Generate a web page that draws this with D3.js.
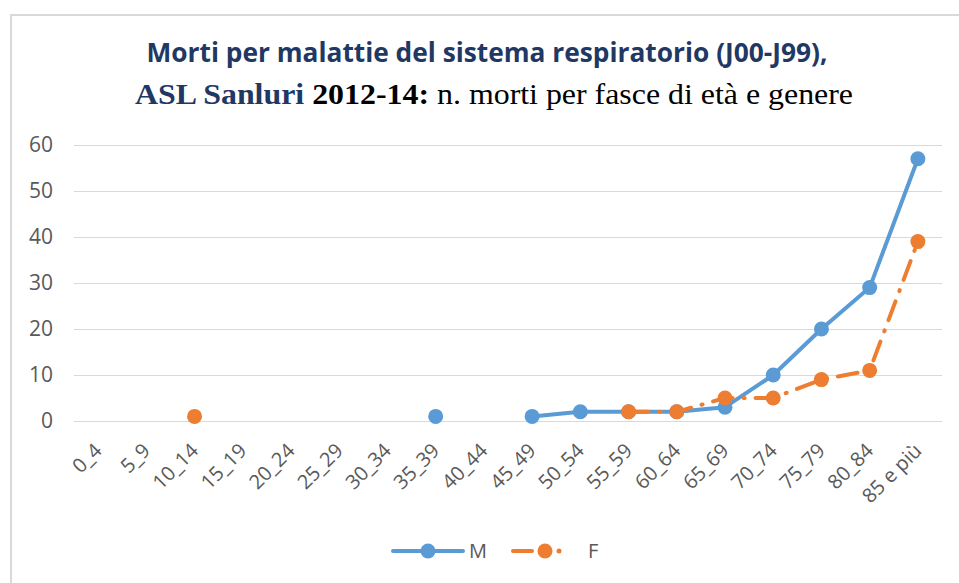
<!DOCTYPE html>
<html>
<head>
<meta charset="utf-8">
<script src="https://cdn.jsdelivr.net/npm/d3@7"></script>
<style>
  body { margin: 0; background: #fff; }
  svg { display: block; }
</style>
</head>
<body>
<div id="chart"></div>
<script>
const categories = ['0_4', '5_9', '10_14', '15_19', '20_24', '25_29', '30_34', '35_39', '40_44',
  '45_49', '50_54', '55_59', '60_64', '65_69', '70_74', '75_79', '80_84', '85 e più'];
const maschi = [null, null, null, null, null, null, null, 1, null, 1, 2, 2, 2, 3, 10, 20, 29, 57];
const femmine = [null, null, 1, null, null, null, null, null, null, null, null, 2, 2, 5, 5, 9, 11, 39];
const yTicks = [0, 10, 20, 30, 40, 50, 60];

const width = 959;
const height = 583;
const blue = '#5B9BD5';
const orange = '#ED7D31';
const textGray = '#595959';

const svg = d3.select('#chart').append('svg')
  .attr('width', width)
  .attr('height', height);

// chart frame
svg.append('path')
  .attr('d', `M11,${height} V15 H${width}`)
  .attr('fill', 'none')
  .attr('stroke', '#d9d9d9')
  .attr('stroke-width', 2);

// title
svg.append('text')
  .attr('x', 487).attr('y', 62)
  .attr('text-anchor', 'middle')
  .attr('font-family', 'Open Sans, sans-serif')
  .attr('font-weight', 'bold')
  .attr('font-size', 26)
  .attr('fill', '#1F3864')
  .attr('textLength', 681)
  .attr('lengthAdjust', 'spacingAndGlyphs')
  .text('Morti per malattie del sistema respiratorio (J00-J99),');

const t2 = svg.append('text')
  .attr('x', 494).attr('y', 104)
  .attr('text-anchor', 'middle')
  .attr('font-family', 'Liberation Serif, Times New Roman, serif')
  .attr('font-size', 29)
  .attr('textLength', 718)
  .attr('lengthAdjust', 'spacingAndGlyphs');
t2.append('tspan').attr('font-weight', 'bold').attr('fill', '#1F3864').text('ASL Sanluri ');
t2.append('tspan').attr('font-weight', 'bold').attr('fill', '#000').text('2012-14:');
t2.append('tspan').attr('fill', '#000').text(' n. morti per fasce di età e genere');

const plot = { left: 74, right: 942, top: 145, bottom: 421 };

const x = d3.scaleBand()
  .domain(categories)
  .range([plot.left, plot.right]);

const y = d3.scaleLinear()
  .domain([0, 60])
  .range([plot.bottom, plot.top]);

const cx = d => x(d) + x.bandwidth() / 2;

// gridlines + y labels
const yAxis = d3.axisLeft(y)
  .tickValues(yTicks)
  .tickSize(-(plot.right - plot.left))
  .tickPadding(21);

const yg = svg.append('g')
  .attr('transform', `translate(${plot.left},0)`)
  .call(yAxis);
yg.select('.domain').remove();
yg.selectAll('.tick line').attr('stroke', '#d9d9d9').attr('stroke-width', 1.2);
yg.selectAll('.tick text')
  .attr('fill', textGray)
  .attr('font-family', 'Open Sans, sans-serif')
  .attr('font-size', 21);

// x axis labels
const xAxis = d3.axisBottom(x).tickSize(0);
const xg = svg.append('g')
  .attr('transform', `translate(0,${plot.bottom})`)
  .call(xAxis);
xg.select('.domain').remove();
xg.selectAll('.tick text')
  .attr('fill', textGray)
  .attr('font-family', 'Open Sans, sans-serif')
  .attr('font-size', 20)
  .attr('text-anchor', 'end')
  .attr('y', 0)
  .attr('dy', 0)
  .attr('transform', 'translate(5,31) rotate(-45)');

const line = d3.line()
  .defined(d => d.v !== null)
  .x(d => cx(d.c))
  .y(d => y(d.v));

const series = [
  { name: 'M', values: maschi, color: blue, dash: null },
  { name: 'F', values: femmine, color: orange, dash: '20,11,1,11' }
];

series.forEach(s => {
  const pts = categories.map((c, i) => ({ c, v: s.values[i] }));
  svg.append('path')
    .datum(pts)
    .attr('d', line)
    .attr('fill', 'none')
    .attr('stroke', s.color)
    .attr('stroke-width', 4)
    .attr('stroke-linecap', 'round')
    .attr('stroke-linejoin', 'round')
    .attr('stroke-dasharray', s.dash);
  svg.append('g')
    .selectAll('circle')
    .data(pts.filter(d => d.v !== null))
    .join('circle')
    .attr('cx', d => cx(d.c))
    .attr('cy', d => y(d.v))
    .attr('r', 7.5)
    .attr('fill', s.color);
});

// legend
const lg = svg.append('g').attr('font-family', 'Open Sans, sans-serif').attr('font-size', 20).attr('fill', textGray);
const ly = 551;
lg.append('line').attr('x1', 393).attr('x2', 463).attr('y1', ly).attr('y2', ly)
  .attr('stroke', blue).attr('stroke-width', 4).attr('stroke-linecap', 'round');
lg.append('circle').attr('cx', 428).attr('cy', ly).attr('r', 7.5).attr('fill', blue);
lg.append('text').attr('x', 469).attr('y', ly + 7).text('M');

lg.append('line').attr('x1', 513).attr('x2', 532).attr('y1', ly).attr('y2', ly)
  .attr('stroke', orange).attr('stroke-width', 4).attr('stroke-linecap', 'round');
lg.append('circle').attr('cx', 545).attr('cy', ly).attr('r', 7.5).attr('fill', orange);
lg.append('circle').attr('cx', 559).attr('cy', ly).attr('r', 2.5).attr('fill', orange);
lg.append('text').attr('x', 588).attr('y', ly + 7).text('F');
</script>
</body>
</html>
